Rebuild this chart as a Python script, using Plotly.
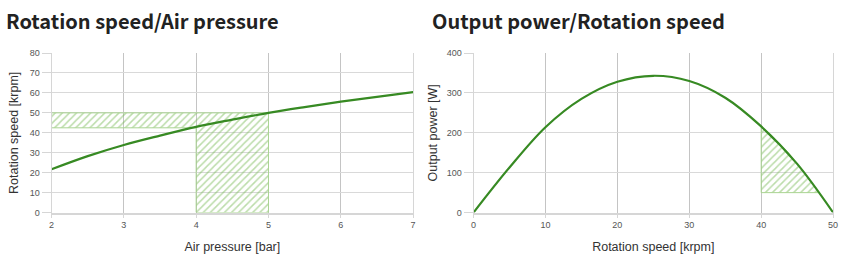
import plotly.graph_objects as go

# Left chart: rotation speed vs air pressure
pressure_bar = [2, 2.5, 3, 3.5, 4, 4.5, 5, 5.5, 6, 6.5, 7]
speed_krpm = [21.7, 28.3, 33.9, 38.6, 43.0, 46.6, 50.0, 52.9, 55.6, 58.0, 60.4]

# hatched operating region (L-shape) on left chart
hatch_l_x = [2, 4, 4, 5, 5, 2, 2]
hatch_l_y = [42.5, 42.5, 0, 0, 50, 50, 42.5]

# Right chart: output power vs rotation speed
rot_krpm = [0, 5, 10, 15, 20, 25, 30, 35, 40, 45, 50]
power_w = [0, 113, 214, 285, 328, 343, 330, 288, 216, 122, 0]

# hatched operating region on right chart
hatch_r_x = [40, 40, 41, 42, 43, 44, 45, 46, 47, 48, 40]
hatch_r_y = [50, 216, 200, 183, 164, 145, 122, 100, 76, 50, 50]

GREEN = "#378a23"
HATCH = "#78b955"
HATCH_EDGE = "#aad492"
TICK_FONT = dict(family="Liberation Sans, Arial, sans-serif", size=9, color="#555555")
TITLE_FONT = dict(family="Liberation Sans, Arial, sans-serif", size=12.5, color="#333333")

fig = go.Figure()

fig.add_trace(go.Scatter(
    x=hatch_l_x, y=hatch_l_y, xaxis="x", yaxis="y", mode="lines",
    fill="toself", fillcolor="rgba(255,255,255,0)",
    fillpattern=dict(shape="/", fgcolor=HATCH, bgcolor="rgba(255,255,255,0)", size=5, solidity=0.3),
    line=dict(color=HATCH_EDGE, width=1), hoverinfo="skip", showlegend=False))
fig.add_trace(go.Scatter(
    x=pressure_bar, y=speed_krpm, xaxis="x", yaxis="y", mode="lines",
    line=dict(color=GREEN, width=2.2, shape="spline"), showlegend=False))

fig.add_trace(go.Scatter(
    x=hatch_r_x, y=hatch_r_y, xaxis="x2", yaxis="y2", mode="lines",
    fill="toself", fillcolor="rgba(255,255,255,0)",
    fillpattern=dict(shape="/", fgcolor=HATCH, bgcolor="rgba(255,255,255,0)", size=5, solidity=0.3),
    line=dict(color=HATCH_EDGE, width=1), hoverinfo="skip", showlegend=False))
fig.add_trace(go.Scatter(
    x=rot_krpm, y=power_w, xaxis="x2", yaxis="y2", mode="lines",
    line=dict(color=GREEN, width=2.2, shape="spline"), showlegend=False))

W, H = 850, 256
ydom = [1 - 216 / H, 1 - 50 / H]

common_x = dict(showgrid=True, gridcolor="#c4c4c4", gridwidth=1, showline=True,
                linecolor="#d6d6d6", linewidth=2, ticks="outside", ticklen=3,
                tickcolor="#d6d6d6", tickfont=TICK_FONT, zeroline=False, fixedrange=True)
common_y = dict(showgrid=True, gridcolor="#d9d9d9", gridwidth=1, showline=True,
                linecolor="#d6d6d6", linewidth=1, mirror=True, ticks="outside", ticklen=9,
                tickcolor="#d6d6d6", tickfont=TICK_FONT, zeroline=False, fixedrange=True)

fig.update_layout(
    width=W, height=H,
    margin=dict(l=0, r=0, t=0, b=0),
    paper_bgcolor="white", plot_bgcolor="white",
    xaxis=dict(common_x, domain=[49 / W, 414 / W], range=[2, 7], dtick=1, anchor="y",
               title=dict(text="Air pressure [bar]", font=TITLE_FONT, standoff=13)),
    yaxis=dict(common_y, domain=ydom, range=[0, 80], dtick=10, anchor="x",
               title=dict(text="Rotation speed [krpm]", font=TITLE_FONT, standoff=8)),
    xaxis2=dict(common_x, domain=[475 / W, 838 / W], range=[0, 50], dtick=10, anchor="y2",
                title=dict(text="Rotation speed [krpm]", font=TITLE_FONT, standoff=13)),
    yaxis2=dict(common_y, domain=ydom, range=[0, 400], dtick=100, anchor="x2",
                title=dict(text="Output power [W]", font=TITLE_FONT, standoff=6)),
    annotations=[
        dict(text="<b>Rotation speed/Air pressure</b>", x=1 / W, y=1 - 16 / H,
             xref="paper", yref="paper", xanchor="left", yanchor="middle", showarrow=False,
             font=dict(family="Noto Sans CJK JP, Noto Sans, sans-serif", size=20, color="#222222")),
        dict(text="<b>Output power/Rotation speed</b>", x=431 / W, y=1 - 16 / H,
             xref="paper", yref="paper", xanchor="left", yanchor="middle", showarrow=False,
             font=dict(family="Noto Sans CJK JP, Noto Sans, sans-serif", size=20, color="#222222")),
    ],
)

fig.write_html("out.html")
